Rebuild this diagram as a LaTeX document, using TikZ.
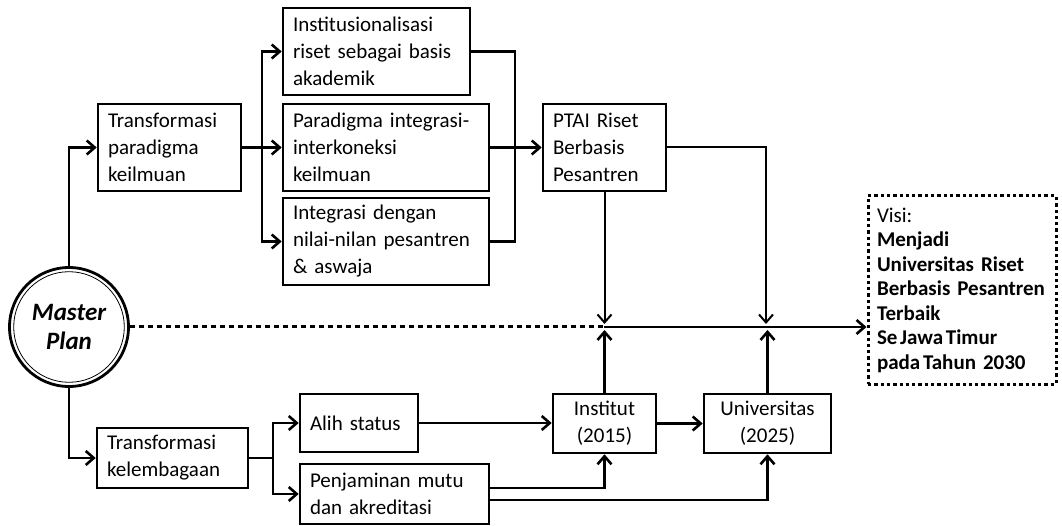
\documentclass[tikz,border=0pt]{standalone}
\usepackage{fontspec}
\setmainfont{Carlito}
\usetikzlibrary{arrows.meta}
\newcommand\boxfont{\fontsize{21}{27}\selectfont}
\newcommand\tightsp{\spaceskip=0.13em\relax}
\begin{document}
\begin{tikzpicture}[x=1pt,y=-1pt,
  bx/.style={draw, line width=2.6pt, inner sep=0pt, align=left, font=\boxfont},
  cbx/.style={draw, line width=2.6pt, inner sep=0pt, align=center, font=\boxfont},
  ln/.style={line width=2.6pt},
  tn/.style={line width=2pt},
  arr/.style={-{Straight Barb[length=8pt,width=14pt]}},
  dotln/.style={line width=3pt, dash pattern=on 5pt off 4pt},
]
\useasboundingbox (0,0) rectangle (1062,526);

% master plan circle
\node[circle, draw, line width=2.8pt, minimum size=119pt, inner sep=0pt, align=center,
      font=\fontsize{25}{29}\selectfont\bfseries\itshape] (mp) at (69,327) {Master\\Plan};
\draw[line width=0.8pt] (mp.center) circle (55.3pt);

% upper branch
\node[bx, minimum width=143pt, minimum height=87pt, text width=123pt] (tp) at (169.5,147.5)
  {Transformasi\\paradigma\\keilmuan};
\node[bx, minimum width=187pt, minimum height=87pt, text width=167pt] (i) at (376.5,51.5)
  {Institusionalisasi\\riset sebagai basis\\akademik};
\node[bx, minimum width=206pt, minimum height=87pt, text width=186pt] (p) at (386,147.5)
  {Paradigma integrasi-\\interkoneksi\\keilmuan};
\node[bx, minimum width=206pt, minimum height=87pt, text width=186pt] (int) at (386,241.5)
  {Integrasi dengan\\nilai-nilan pesantren\\\& aswaja};
\node[bx, minimum width=123pt, minimum height=87pt, text width=103pt] (ptai) at (604.5,147.5)
  {PTAI Riset\\Berbasis\\Pesantren};

% lower branch
\node[bx, minimum width=151pt, minimum height=60pt, text width=131pt] (tk) at (172.5,458)
  {Transformasi\\kelembagaan};
\node[bx, minimum width=118pt, minimum height=58pt, text width=98pt] (alih) at (359,423)
  {Alih status};
\node[bx, minimum width=189pt, minimum height=60pt, text width=169pt] (pen) at (394.5,494)
  {Penjaminan mutu\\dan akreditasi};
\node[cbx, minimum width=103pt, minimum height=59pt, text width=95pt] (inst) at (604.5,423.5)
  {Institut\\(2015)};
\node[cbx, minimum width=127pt, minimum height=59pt, text width=119pt] (univ) at (767.5,423.5)
  {Universitas\\(2025)};

% vision box
\node[draw, line width=3pt, dash pattern=on 3.3pt off 3pt, inner sep=0pt, align=left,
      minimum width=188pt, minimum height=188pt, text width=170pt,
      font=\fontsize{21}{24.5}\selectfont] (visi) at (962,290)
  {Visi:\\\textbf{Menjadi}\\\textbf{Universitas Riset}\\\textbf{Berbasis Pesantren}\\\textbf{Terbaik}\\{\bfseries\tightsp Se Jawa Timur}\\{\bfseries\tightsp pada Tahun\hspace{7pt}2030}};

% junction coordinates
\coordinate (b1) at (262,147.5);
\coordinate (c1) at (515,147.5);
\coordinate (b2) at (273,458);
\coordinate (ja) at (604,327);
\coordinate (jat) at (604,324);
\coordinate (jab) at (604,330);
\coordinate (jb) at (766,327);

% connectors upper
\draw[ln,arr] (mp.north) |- (tp.west);
\draw[ln,arr] (mp.south) |- (tk.west);
\draw[ln] (tp.east) -- (b1);
\draw[ln,arr] (b1) |- (i.west);
\draw[ln,arr] (b1) -- (p.west);
\draw[ln,arr] (b1) |- (int.west);
\draw[ln] (i.east) -| (c1) |- (int.east);
\draw[ln,arr] (p.east) -- (ptai.west);
\draw[tn,arr] (ptai.south) -- (ptai.south |- jat);
\draw[tn,arr] (ptai.east) -| (jb |- jat);

% main line
\draw[dotln] (mp.east) -- (ja);
\draw[ln,arr] (ja) -- (ja -| visi.west);

% connectors lower
\draw[ln] (tk.east) -- (b2);
\draw[ln,arr] (b2) |- (alih.west);
\draw[ln,arr] (b2) |- (pen.west);
\draw[ln,arr] (alih.east) -- (alih.east -| inst.west);
\draw[ln,arr] (inst.east) -- (univ.west);
\draw[ln,arr] ([yshift=6pt]pen.east) -| (inst.south);
\draw[ln,arr] ([yshift=-6pt]pen.east) -| (univ.south);
\draw[ln,arr] (inst.north) -- (inst.north |- jab);
\draw[ln,arr] (univ.north) -- (univ.north |- jab);
\end{tikzpicture}
\end{document}
